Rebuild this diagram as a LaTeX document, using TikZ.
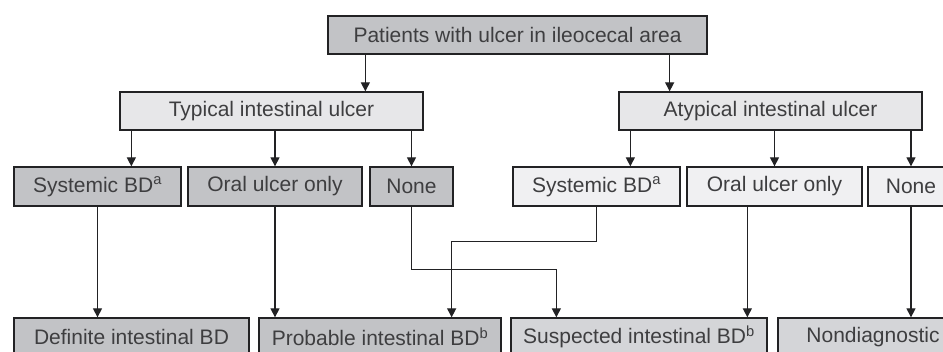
\documentclass[tikz,border=0pt]{standalone}
\usepackage{fontspec}
\setmainfont{Liberation Sans}
\usepackage{tikz}
\usetikzlibrary{arrows.meta,positioning,calc}
\definecolor{ink}{RGB}{34,34,36}
\definecolor{txt}{RGB}{62,62,64}
\definecolor{medgray}{RGB}{194,195,198}
\definecolor{litgray}{RGB}{231,231,233}
\definecolor{palegray}{RGB}{240,240,242}
\definecolor{sftgray}{RGB}{212,213,216}
\tikzset{
  box/.style={draw=ink, line width=1.3pt, inner sep=0pt, minimum height=38pt, text=txt, font=\fontsize{21}{25}\selectfont},
  dk/.style={box, fill=medgray},
  lt/.style={box, fill=litgray},
  pl/.style={box, fill=palegray},
  sf/.style={box, fill=sftgray},
  arr/.style={-{Triangle[length=9pt,width=9pt]}, line width=1.3pt, draw=ink}
}

\begin{document}
\begin{tikzpicture}[x=1pt,y=-1pt]
  \useasboundingbox (0,0) rectangle (943,352);
  \clip (0,0) rectangle (943,352);
  % levels
  \node[dk, minimum width=379pt] (pat) at (517.5,35) {Patients with ulcer in ileocecal area};
  \node[lt, minimum width=303pt] (typ) at (271.5,111) {Typical intestinal ulcer};
  \node[lt, minimum width=303pt] (atyp) at (770.5,111) {Atypical intestinal ulcer};
  \node[dk, minimum width=167pt, minimum height=39pt] (sysT) at (97.5,186.5) {Systemic BD\textsuperscript{a}};
  \node[dk, minimum width=174pt, minimum height=39pt] (oralT) at (275,186.5) {Oral ulcer only};
  \node[dk, minimum width=83pt, minimum height=39pt] (noneT) at (411.5,186.5) {None};
  \node[pl, minimum width=167pt, minimum height=39pt] (sysA) at (596.5,186.5) {Systemic BD\textsuperscript{a}};
  \node[pl, minimum width=175pt, minimum height=39pt] (oralA) at (774.5,186.5) {Oral ulcer only};
  \node[pl, minimum width=86pt, minimum height=39pt] (noneA) at (911,186.5) {None};
  \node[dk, minimum width=235pt] (defi) at (131.5,337) {Definite intestinal BD};
  \node[dk, minimum width=242pt] (prob) at (380,337) {Probable intestinal BD\textsuperscript{b}};
  \node[sf, minimum width=256pt] (susp) at (639,337) {Suspected intestinal BD\textsuperscript{b}};
  \node[sf, minimum width=190pt] (nond) at (873,337) {Nondiagnostic};
  % arrows
  \draw[arr] ([xshift=38pt]pat.south west) -- ([xshift=38pt]pat.south west |- typ.north);
  \draw[arr] ([xshift=-38pt]pat.south east) -- ([xshift=-38pt]pat.south east |- atyp.north);
  \draw[arr] ([xshift=12pt]typ.south west) -- ([xshift=12pt]typ.south west |- sysT.north);
  \draw[arr] (typ.south -| oralT) -- (oralT.north);
  \draw[arr] (typ.south -| noneT) -- (noneT.north);
  \draw[arr] ([xshift=12pt]atyp.south west) -- ([xshift=12pt]atyp.south west |- sysA.north);
  \draw[arr] (atyp.south -| oralA) -- (oralA.north);
  \draw[arr] (atyp.south -| noneA) -- (noneA.north);
  \draw[arr] (sysT.south) -- (sysT.south |- defi.north);
  \draw[arr] (oralT.south) -- (oralT.south |- prob.north);
  \draw[arr] (noneT.south) -- ++(0,63) -| ([xshift=46pt]susp.north west);
  \draw[arr] (sysA.south) -- ++(0,35) -| ([xshift=-50pt]prob.north east);
  \draw[arr] ([xshift=61pt]oralA.south west) -- ([xshift=61pt]oralA.south west |- susp.north);
  \draw[arr] (noneA.south) -- (noneA.south |- nond.north);
\end{tikzpicture}
\end{document}
